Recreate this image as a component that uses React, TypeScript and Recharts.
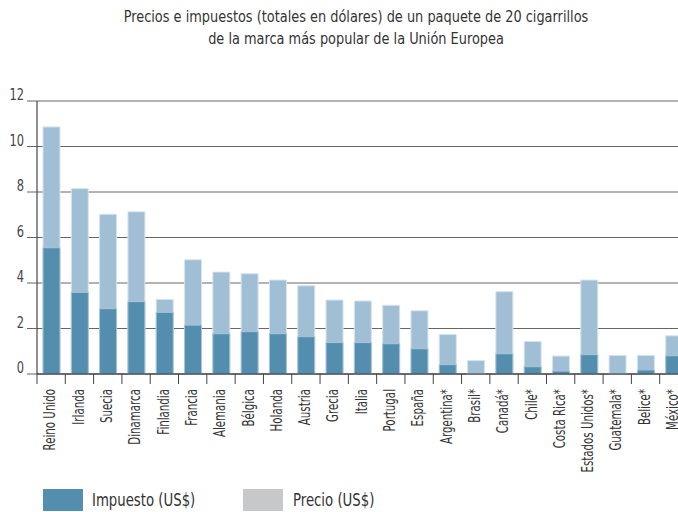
import { BarChart, Bar, XAxis, YAxis, CartesianGrid } from "recharts";

const paises = [
  "Reino Unido", "Irlanda", "Suecia", "Dinamarca", "Finlandia", "Francia",
  "Alemania", "Bélgica", "Holanda", "Austria", "Grecia", "Italia", "Portugal",
  "España", "Argentina*", "Brasil*", "Canadá*", "Chile*", "Costa Rica*",
  "Estados Unidos*", "Guatemala*", "Belice*", "México*",
];
const precio = [
  10.86, 8.15, 7.02, 7.13, 3.28, 5.02, 4.48, 4.41, 4.13, 3.88, 3.25, 3.21, 3.02,
  2.78, 1.74, 0.59, 3.62, 1.43, 0.79, 4.13, 0.82, 0.82, 1.68,
];
const impuesto = [
  5.55, 3.59, 2.87, 3.18, 2.71, 2.15, 1.77, 1.86, 1.77, 1.64, 1.38, 1.38, 1.33,
  1.11, 0.41, 0, 0.89, 0.32, 0.13, 0.85, 0, 0.18, 0.8,
];
const yTicks = [0, 2, 4, 6, 8, 10, 12];

const data = paises.map((pais, i) => ({ pais, precio: precio[i], impuesto: impuesto[i] }));

const FONT = "'DejaVu Sans Condensed', 'DejaVu Sans', sans-serif";
const DARK = "#538eae";
const LIGHT = "#a1bfd4";
const GREY = "#c7c8ca";

// country labels: rotated, squeezed a bit to look like a narrow face
function CountryTick(props: any) {
  const { x, y, payload } = props;
  const left = x - (payload.offset || 0);
  return (
    <g>
      <line x1={left} y1={y} x2={left} y2={y + 10} stroke="#444" />
      <text
        transform={`translate(${x - 1}, ${y + 15}) rotate(-90) scale(0.76, 1)`}
        textAnchor="end"
        dy="0.35em"
        fill="#333"
        fontSize={15}
        fontFamily={FONT}
      >
        {payload.value}
      </text>
    </g>
  );
}

function ValueTick(props: any) {
  const { x, y, payload } = props;
  return (
    <text
      transform={`translate(${x - 3}, ${y - 1}) scale(0.82, 1)`}
      textAnchor="end"
      fill="#444"
      fontSize={15.5}
      fontFamily={FONT}
    >
      {payload.value}
    </text>
  );
}

export default function App() {
  return (
    <div style={{ position: "fixed", top: 0, left: 0, width: 678, height: 512, overflow: "hidden", background: "#fff" }}>
      <div
        style={{
          position: "absolute",
          top: 6,
          left: 0,
          width: 712,
          textAlign: "center",
          fontFamily: FONT,
          fontSize: 16.5,
          lineHeight: "22px",
          color: "#333",
          transform: "scaleX(0.87)",
          transformOrigin: "356px 0",
        }}
      >
        Precios e impuestos (totales en dólares) de un paquete de 20 cigarrillos
        <br />
        de la marca más popular de la Unión Europea
      </div>
      <BarChart
        width={700}
        height={512}
        data={data}
        margin={{ top: 101, right: 12, left: 0, bottom: 0 }}
        barGap={-17}
      >
        <CartesianGrid vertical={false} stroke="#666" strokeWidth={1} />
        <XAxis
          dataKey="pais"
          interval={0}
          height={138}
          tickLine={false}
          tickSize={0}
          tickMargin={0}
          axisLine={{ stroke: "#222" }}
          tick={<CountryTick />}
        />
        <YAxis
          domain={[0, 12]}
          ticks={yTicks}
          width={37}
          tickSize={10}
          tickMargin={0}
          tickLine={{ stroke: "#666" }}
          axisLine={{ stroke: "#222" }}
          tick={<ValueTick />}
        />
        <Bar dataKey="precio" barSize={17} fill={LIGHT} stroke="#d6e4ee" strokeWidth={1} isAnimationActive={false} />
        <Bar dataKey="impuesto" barSize={17} fill={DARK} stroke="#a9c6d8" strokeWidth={1} isAnimationActive={false} />
      </BarChart>
      <div style={{ position: "absolute", top: 489, left: 43, width: 40, height: 22, background: DARK }} />
      <div style={{ position: "absolute", top: 489, left: 243, width: 40, height: 22, background: GREY }} />
      <div
        style={{
          position: "absolute",
          top: 489,
          left: 92,
          lineHeight: "22px",
          fontFamily: FONT,
          fontSize: 18,
          color: "#333",
          transform: "scaleX(0.82)",
          transformOrigin: "0 0",
          whiteSpace: "nowrap",
        }}
      >
        Impuesto (US$)
      </div>
      <div
        style={{
          position: "absolute",
          top: 489,
          left: 293,
          lineHeight: "22px",
          fontFamily: FONT,
          fontSize: 18,
          color: "#333",
          transform: "scaleX(0.82)",
          transformOrigin: "0 0",
          whiteSpace: "nowrap",
        }}
      >
        Precio (US$)
      </div>
    </div>
  );
}
